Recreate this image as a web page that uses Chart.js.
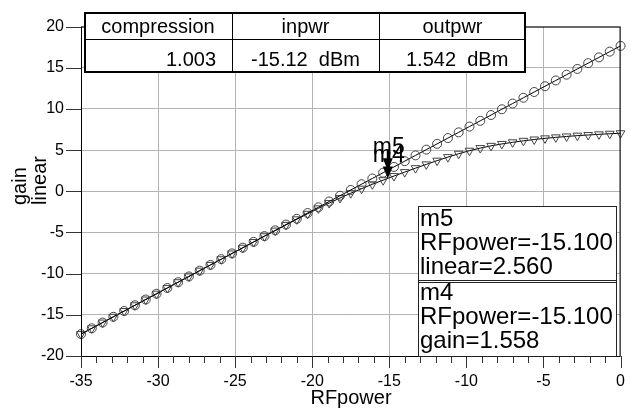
<!DOCTYPE html>
<html>
<head>
<meta charset="utf-8">
<script src="https://cdn.jsdelivr.net/npm/chart.js@4"></script>
<style>
  body { margin: 0; background: #fff; }
  canvas { display: block; }
</style>
</head>
<body>
<canvas id="chart" width="641" height="410"></canvas>
<script>
// RF input power sweep (dBm), one point per plotted symbol
const rfPower = [-35, -34.3, -33.6, -32.9, -32.2, -31.5, -30.8, -30.1, -29.4, -28.7,
  -28, -27.3, -26.6, -25.9, -25.2, -24.5, -23.8, -23.1, -22.4, -21.7,
  -21, -20.3, -19.6, -18.9, -18.2, -17.5, -16.8, -16.1, -15.4, -14.7,
  -14, -13.3, -12.6, -11.9, -11.2, -10.5, -9.8, -9.1, -8.4, -7.7,
  -7, -6.3, -5.6, -4.9, -4.2, -3.5, -2.8, -2.1, -1.4, -0.7, 0];

const linear = [-17.34, -16.64, -15.94, -15.24, -14.54, -13.84, -13.14, -12.44, -11.74, -11.04,
  -10.34, -9.64, -8.94, -8.24, -7.54, -6.84, -6.14, -5.44, -4.74, -4.04,
  -3.34, -2.64, -1.94, -1.24, -0.54, 0.16, 0.86, 1.56, 2.26, 2.96,
  3.66, 4.36, 5.06, 5.76, 6.46, 7.16, 7.86, 8.56, 9.26, 9.96,
  10.66, 11.36, 12.06, 12.76, 13.46, 14.16, 14.86, 15.56, 16.26, 16.96, 17.66];

const gain = [-17.34, -16.64, -15.94, -15.24, -14.54, -13.84, -13.14, -12.44, -11.74, -11.04,
  -10.34, -9.64, -8.94, -8.25, -7.55, -6.86, -6.16, -5.46, -4.77, -4.08,
  -3.40, -2.73, -2.07, -1.43, -0.82, -0.23, 0.32, 0.85, 1.35, 1.85,
  2.33, 2.81, 3.27, 3.72, 4.15, 4.56, 4.93, 5.25, 5.52, 5.75,
  5.95, 6.13, 6.29, 6.43, 6.55, 6.66, 6.76, 6.84, 6.92, 6.99, 7.05];

// markers m5 (linear) and m4 (gain)
const markerNames = ["m5", "m4"];
const markerSeries = ["linear", "gain"];
const markerX = [-15.1, -15.1];
const markerY = [2.56, 1.558];
const markerXText = ["-15.100", "-15.100"];
const markerYText = ["2.560", "1.558"];

// summary table
const tableHeads = ["compression", "inpwr", "outpwr"];
const tableValues = ["1.003", "-15.12  dBm", "1.542  dBm"];

const FONT = "'Liberation Sans', Arial, sans-serif";

function toPoints(ys) {
  return rfPower.map((x, i) => ({ x: x, y: ys[i] }));
}

const overlay = {
  id: "overlay",
  afterDraw(chart) {
    const ctx = chart.ctx;
    const a = chart.chartArea;
    const xs = chart.scales.x;
    const ys = chart.scales.y;
    ctx.save();

    // frame
    ctx.strokeStyle = "#000";
    ctx.lineWidth = 1;
    ctx.strokeRect(a.left + 0.5, a.top + 0.5, a.right - a.left - 1, a.bottom - a.top);

    // x ticks, major + minor
    ctx.strokeStyle = "#333";
    for (let v = -35; v <= 0; v++) {
      const px = Math.round(xs.getPixelForValue(v)) + 0.5;
      const len = v % 5 === 0 ? 12 : 7;
      ctx.beginPath();
      ctx.moveTo(px, a.bottom);
      ctx.lineTo(px, a.bottom + len);
      ctx.stroke();
    }
    // y ticks
    for (let v = -20; v <= 20; v += 5) {
      const py = Math.round(ys.getPixelForValue(v)) + 0.5;
      ctx.beginPath();
      ctx.moveTo(a.left - 15, py);
      ctx.lineTo(a.left, py);
      ctx.stroke();
    }

    // axis titles
    ctx.fillStyle = "#000";
    ctx.font = "20px " + FONT;
    ctx.textAlign = "center";
    ctx.textBaseline = "alphabetic";
    ctx.fillText("RFpower", 351, 404);
    ctx.textAlign = "left";
    [["gain", 26], ["linear", 46]].forEach(([t, bx]) => {
      ctx.save();
      ctx.translate(bx, 205);
      ctx.rotate(-Math.PI / 2);
      ctx.fillText(t, 0, 0);
      ctx.restore();
    });

    // table
    const colX = [84, 232, 379, 526];
    const rowY = [12, 39, 72];
    ctx.fillStyle = "#fff";
    ctx.fillRect(colX[0], rowY[0], colX[3] - colX[0], rowY[2] - rowY[0]);
    ctx.strokeStyle = "#000";
    ctx.lineWidth = 1;
    ctx.beginPath();
    ctx.moveTo(colX[0], rowY[1] + 0.5);
    ctx.lineTo(colX[3], rowY[1] + 0.5);
    for (let i = 1; i < 3; i++) {
      ctx.moveTo(colX[i] + 0.5, rowY[0]);
      ctx.lineTo(colX[i] + 0.5, rowY[2]);
    }
    ctx.stroke();
    ctx.lineWidth = 2;
    ctx.strokeRect(colX[0] + 1, rowY[0] + 1, colX[3] - colX[0] - 2, rowY[2] - rowY[0] - 1);
    ctx.fillStyle = "#000";
    ctx.font = "20px " + FONT;
    ctx.textAlign = "center";
    tableHeads.forEach((t, i) => ctx.fillText(t, (colX[i] + colX[i + 1]) / 2, 33));
    ctx.textAlign = "right";
    ctx.fillText(tableValues[0], 216, 66);
    ctx.textAlign = "left";
    ctx.fillText(tableValues[1], 251, 66);
    ctx.fillText(tableValues[2], 406, 66);

    // marker arrows and labels
    markerNames.forEach((name, i) => {
      const px = xs.getPixelForValue(markerX[i]);
      const py = ys.getPixelForValue(markerY[i]);
      ctx.fillStyle = "#000";
      ctx.fillRect(px - 1, py - 20, 3, 9);
      ctx.beginPath();
      ctx.moveTo(px - 5, py - 12);
      ctx.lineTo(px + 5, py - 12);
      ctx.lineTo(px, py);
      ctx.closePath();
      ctx.fill();
      ctx.font = "23px " + FONT;
      ctx.textAlign = "center";
      ctx.fillText(name, px + 1, py - 16);
    });

    // marker readout box
    const bx0 = 418, bx1 = 616, by0 = 206, byMid = 280, by1 = a.bottom;
    ctx.fillStyle = "#fff";
    ctx.fillRect(bx0, by0, bx1 - bx0, by1 - by0);
    ctx.strokeStyle = "#222";
    ctx.lineWidth = 1;
    ctx.strokeRect(bx0 + 0.5, by0 + 0.5, bx1 - bx0, by1 - by0);
    ctx.beginPath();
    ctx.moveTo(bx0, byMid + 0.5); ctx.lineTo(bx1, byMid + 0.5);
    ctx.moveTo(bx0, byMid + 2.5); ctx.lineTo(bx1, byMid + 2.5);
    ctx.stroke();
    ctx.fillStyle = "#000";
    ctx.font = "24px " + FONT;
    ctx.textAlign = "left";
    const base = [226, 300];
    markerNames.forEach((name, i) => {
      ctx.fillText(name, bx0 + 2, base[i]);
      ctx.fillText("RFpower=" + markerXText[i], bx0 + 2, base[i] + 24);
      ctx.fillText(markerSeries[i] + "=" + markerYText[i], bx0 + 2, base[i] + 48);
    });

    ctx.restore();
  }
};

new Chart(document.getElementById("chart"), {
  type: "line",
  data: {
    datasets: [
      {
        label: "linear",
        data: toPoints(linear),
        borderColor: "#000",
        borderWidth: 1,
        pointStyle: "circle",
        pointRadius: 4.5,
        pointBorderColor: "#444",
        pointBackgroundColor: "rgba(0,0,0,0)",
        pointBorderWidth: 1,
        tension: 0,
        clip: false
      },
      {
        label: "gain",
        data: toPoints(gain),
        borderColor: "#000",
        borderWidth: 1,
        pointStyle: "triangle",
        rotation: 180,
        pointRadius: 5,
        pointBorderColor: "#444",
        pointBackgroundColor: "rgba(0,0,0,0)",
        pointBorderWidth: 1,
        tension: 0,
        clip: false
      }
    ]
  },
  options: {
    responsive: false,
    animation: false,
    layout: { padding: { top: 11, right: 17, left: 0, bottom: 0 } },
    plugins: { legend: { display: false }, tooltip: { enabled: false } },
    scales: {
      x: {
        type: "linear",
        min: -35,
        max: 0,
        ticks: { stepSize: 5, color: "#000", padding: 16, font: { family: FONT, size: 16 } },
        grid: { color: "#b4b4b4", drawTicks: false },
        border: { display: false },
        afterFit: s => { s.height = 54; }
      },
      y: {
        min: -20,
        max: 20,
        ticks: { stepSize: 5, color: "#000", padding: 17, font: { family: FONT, size: 16 } },
        grid: { color: "#b4b4b4", drawTicks: false },
        border: { display: false },
        afterFit: s => { s.width = 81; }
      }
    }
  },
  plugins: [overlay]
});
</script>
</body>
</html>
